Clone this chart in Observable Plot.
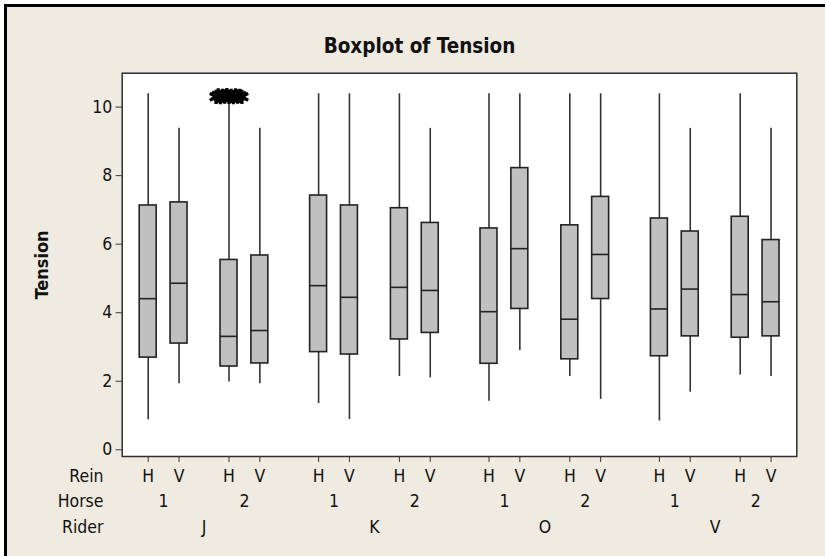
<!DOCTYPE html>
<html><head><meta charset="utf-8">
<script src="https://cdn.jsdelivr.net/npm/d3@7"></script>
<script src="https://cdn.jsdelivr.net/npm/@observablehq/plot@0.6"></script>
<style>
html,body{margin:0;padding:0;background:#fff;}
#wrap{position:absolute;left:4px;top:4px;width:821px;height:552px;box-sizing:border-box;border-left:3px solid #000;border-top:3px solid #000;background:#f0ebe0;}
#chart{position:absolute;left:0;top:0;}
</style></head><body>
<div id="wrap"></div><div id="chart"></div>
<script>
// ---- data ----
const riders = ["J", "K", "O", "V"];
const horses = ["1", "2"];
const reins = ["H", "V"];
// order: J1H J1V J2H J2V K1H K1V K2H K2V O1H O1V O2H O2V V1H V1V V2H V2V
const whiskerLow  = [0.88, 1.93, 1.98, 1.93, 1.35, 0.88, 2.14, 2.10, 1.42, 2.90, 2.14, 1.47, 0.84, 1.68, 2.18, 2.14];
const q1          = [2.69, 3.10, 2.43, 2.52, 2.85, 2.78, 3.22, 3.41, 2.51, 4.11, 2.64, 4.40, 2.73, 3.31, 3.27, 3.31];
const median      = [4.41, 4.86, 3.31, 3.48, 4.79, 4.45, 4.74, 4.65, 4.03, 5.87, 3.81, 5.70, 4.11, 4.69, 4.53, 4.32];
const q3          = [7.13, 7.22, 5.54, 5.67, 7.42, 7.13, 7.05, 6.62, 6.46, 8.22, 6.55, 7.38, 6.75, 6.37, 6.80, 6.12];
const whiskerHigh = [10.39, 9.38, 10.15, 9.38, 10.39, 10.39, 10.39, 9.38, 10.39, 10.39, 10.39, 10.39, 10.39, 9.38, 10.39, 9.38];
// outliers (group index 2 = Rider J, Horse 2, Rein H), drawn as asterisks
const outlierGroup = 2;
const outlierValues = [10.30, 10.34, 10.29, 10.33, 10.31, 10.35, 10.30, 10.33, 10.29, 10.34, 10.31, 10.33, 10.30];
const yTicks = [0, 2, 4, 6, 8, 10];

// ---- layout (positions on a linear x scale) ----
const reinStep = 1, horseStep = 2.62, riderStep = 5.525, halfW = 0.275;
const boxes = [];
riders.forEach((r, ri) => horses.forEach((h, hi) => reins.forEach((v, vi) => {
  const i = boxes.length;
  boxes.push({rider: r, horse: h, rein: v,
    pos: ri * riderStep + hi * horseStep + vi * reinStep,
    lo: whiskerLow[i], q1: q1[i], med: median[i], q3: q3[i], hi: whiskerHigh[i]});
})));
const horseLabels = [];
riders.forEach((r, ri) => horses.forEach((h, hi) => horseLabels.push({text: h, pos: ri * riderStep + hi * horseStep + reinStep / 2})));
const riderLabels = riders.map((r, ri) => ({text: r, pos: ri * riderStep + (horseStep + reinStep) / 2}));
const ob = boxes[outlierGroup];
const outliers = outlierValues.map((v, i) => ({pos: ob.pos + (i - (outlierValues.length - 1) / 2) * 0.07, v}));

const ink = "#222";
const fs = 17.5;
const plot = Plot.plot({
  width: 825, height: 556,
  marginLeft: 121.7, marginTop: 72.7, marginRight: 28.7, marginBottom: 100,
  style: {background: "transparent", fontFamily: "'DejaVu Sans Condensed','DejaVu Sans',sans-serif", fontSize: fs + "px", color: "#111", overflow: "visible"},
  x: {type: "linear", domain: [-0.843, 21.03], axis: null},
  y: {domain: [-0.196, 10.99], axis: null},
  marks: [
    Plot.frame({fill: "white", stroke: "#2e2e2e", strokeWidth: 1.5}),
    Plot.axisY({ticks: yTicks, tickSize: 6, tickPadding: 4, label: null, stroke: "#333", fontSize: fs}),
    Plot.axisX({ticks: boxes.map(d => d.pos), tickSize: 6, tickFormat: () => "", label: null, stroke: "#333"}),
    Plot.ruleX(boxes, {x: "pos", y1: "lo", y2: "q1", stroke: "#333", strokeWidth: 1.6}),
    Plot.ruleX(boxes, {x: "pos", y1: "q3", y2: "hi", stroke: "#333", strokeWidth: 1.6}),
    Plot.rect(boxes, {x1: d => d.pos - halfW, x2: d => d.pos + halfW, y1: "q1", y2: "q3", fill: "#c0c0c0", stroke: ink, strokeWidth: 1.6}),
    Plot.ruleY(boxes, {y: "med", x1: d => d.pos - halfW, x2: d => d.pos + halfW, stroke: ink, strokeWidth: 1.6}),
    Plot.dot(outliers, {x: "pos", y: "v", r: 6.8, symbol: "asterisk", stroke: "#000", strokeWidth: 3.2}),
    Plot.text(boxes, {x: "pos", text: "rein", frameAnchor: "bottom", lineAnchor: "bottom", dy: 25.7, fontSize: fs}),
    Plot.text(horseLabels, {x: "pos", text: "text", frameAnchor: "bottom", lineAnchor: "bottom", dy: 50.5, fontSize: fs}),
    Plot.text(riderLabels, {x: "pos", text: "text", frameAnchor: "bottom", lineAnchor: "bottom", dy: 76, fontSize: fs}),
    Plot.text(["Rein"], {frameAnchor: "bottom-left", textAnchor: "end", lineAnchor: "bottom", dx: -18.7, dy: 25.7, fontSize: fs}),
    Plot.text(["Horse"], {frameAnchor: "bottom-left", textAnchor: "end", lineAnchor: "bottom", dx: -18.7, dy: 50.5, fontSize: fs}),
    Plot.text(["Rider"], {frameAnchor: "bottom-left", textAnchor: "end", lineAnchor: "bottom", dx: -18.7, dy: 76, fontSize: fs}),
    Plot.text(["Boxplot of Tension"], {frameAnchor: "top", lineAnchor: "bottom", dx: -40, dy: -19.7, fontSize: 20.5, fontWeight: "bold"}),
    Plot.text(["Tension"], {frameAnchor: "left", textAnchor: "middle", rotate: -90, dx: -79.7, fontSize: 18, fontWeight: "bold"})
  ]
});
document.getElementById("chart").appendChild(plot);
</script></body></html>
